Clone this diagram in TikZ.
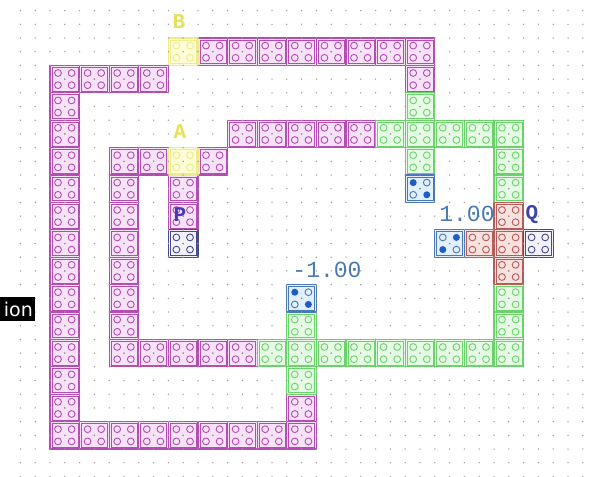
\documentclass[tikz,border=0pt]{standalone}
\usepackage{fontspec}
\newfontfamily\monof{Liberation Mono}
\newfontfamily\sansf{DejaVu Sans}
\definecolor{magB}{HTML}{B44CB4}\definecolor{magF}{HTML}{F7E3F7}
\definecolor{grnB}{HTML}{6AD46A}\definecolor{grnF}{HTML}{E6FAE6}
\definecolor{yelB}{HTML}{EDEB8A}\definecolor{yelF}{HTML}{FDFDD8}
\definecolor{redB}{HTML}{B85A5A}\definecolor{redF}{HTML}{F6E2DE}
\definecolor{bluB}{HTML}{4A78B4}\definecolor{bluF}{HTML}{E2EFFC}
\definecolor{navB}{HTML}{4A4A88}\definecolor{navF}{HTML}{F2F2F8}
\definecolor{dotfill}{HTML}{1E5CC8}
\definecolor{lbl}{HTML}{4A7AB0}
\definecolor{gridc}{HTML}{9A9A9A}
\definecolor{yellbl}{HTML}{E6E05A}
\newcommand\qcacell[4]{%
  \pgfmathsetmacro\xa{50+29.6*#1}\pgfmathsetmacro\ya{38+27.4*#2}%
  \draw[#3B, fill=#3F, line width=1.1pt] (\xa,\ya) rectangle ++(29.6,27.4);
  \draw[#3B, line width=0.4pt] (\xa+1.8,\ya+1.8) rectangle ++(26,23.8);
  \foreach \cx/\cy/\k in {8/7.6/1, 21.6/7.6/2, 8/19.8/3, 21.6/19.8/4}{%
    \def\dofill{0}%
    \ifnum#4=1 \ifnum\k=1 \def\dofill{1}\fi\ifnum\k=4 \def\dofill{1}\fi\fi
    \ifnum#4=2 \ifnum\k=2 \def\dofill{1}\fi\ifnum\k=3 \def\dofill{1}\fi\fi
    \if1\dofill
      \fill[dotfill] (\xa+\cx,\ya+\cy) circle[radius=3.5pt];
    \else
      \draw[#3B, line width=0.9pt] (\xa+\cx,\ya+\cy) circle[radius=3.4pt];
    \fi
  }%
  \fill[#3B] (\xa+14.8,\ya+13.7) circle[radius=0.8pt];
}
\tikzset{
  letterlbl/.style={font=\monof\bfseries\fontsize{21}{21}\selectfont, inner sep=0pt},
  numlbl/.style={text=lbl, font=\monof\fontsize{23}{23}\selectfont, inner sep=0pt}
}
\begin{document}
\begin{tikzpicture}[x=1pt,y=-1pt]
\useasboundingbox (0,0) rectangle (598,477);
\fill[white] (0,0) rectangle (598,477);
% magenta
\foreach \c in {5,...,12} {\qcacell{\c}{0}{mag}{0}}
\foreach \c in {0,...,3} {\qcacell{\c}{1}{mag}{0}}
\qcacell{12}{1}{mag}{0}
\foreach \r in {2,...,13} {\qcacell{0}{\r}{mag}{0}}
\foreach \c in {6,...,10} {\qcacell{\c}{3}{mag}{0}}
\foreach \c in {2,3,5} {\qcacell{\c}{4}{mag}{0}}
\foreach \r in {5,...,10} {\qcacell{2}{\r}{mag}{0}}
\foreach \c in {2,...,6} {\qcacell{\c}{11}{mag}{0}}
\qcacell{4}{5}{mag}{0}
\qcacell{4}{6}{mag}{0}
\qcacell{8}{13}{mag}{0}
\foreach \c in {0,...,8} {\qcacell{\c}{14}{mag}{0}}
% yellow
\qcacell{4}{0}{yel}{0}
\qcacell{4}{4}{yel}{0}
% green
\qcacell{12}{2}{grn}{0}
\foreach \c in {11,...,15} {\qcacell{\c}{3}{grn}{0}}
\qcacell{12}{4}{grn}{0}
\qcacell{15}{4}{grn}{0}
\qcacell{15}{5}{grn}{0}
\qcacell{15}{9}{grn}{0}
\qcacell{15}{10}{grn}{0}
\qcacell{8}{10}{grn}{0}
\foreach \c in {7,...,15} {\qcacell{\c}{11}{grn}{0}}
\qcacell{8}{12}{grn}{0}
% red
\qcacell{15}{6}{red}{0}
\qcacell{14}{7}{red}{0}
\qcacell{15}{7}{red}{0}
\qcacell{15}{8}{red}{0}
% blue
\qcacell{12}{5}{blu}{1}
\qcacell{13}{7}{blu}{2}
\qcacell{8}{9}{blu}{1}
% navy
\qcacell{4}{7}{nav}{0}
\qcacell{16}{7}{nav}{0}
% grid dots
\foreach \k in {-2,...,36} {
  \foreach \m in {-2,...,32} {
    \fill[gridc] (50+14.8*\k,38+13.7*\m) circle[radius=0.75pt];
  }
}
% labels
\node[letterlbl, text=yellbl] (labB) at (179,22) {B};
\node[letterlbl, text=yellbl] (labA) at (180,132) {A};
\node[letterlbl, text={rgb,255:red,70;green,60;blue,180}] (labP) at (180,215) {P};
\node[letterlbl, text={rgb,255:red,60;green,70;blue,170}] (labQ) at (532,215) {Q};
\node[numlbl] (lab1) at (467,214) {1.00};
\node[numlbl] (lab2) at (327,270) {-1.00};
% tooltip fragment
\fill[black] (0,297) rectangle (35,321);
\node[anchor=east, text=white, inner sep=0pt, font=\sansf\fontsize{19}{19}\selectfont] (tip) at (33,309) {ion};
\end{tikzpicture}
\end{document}
